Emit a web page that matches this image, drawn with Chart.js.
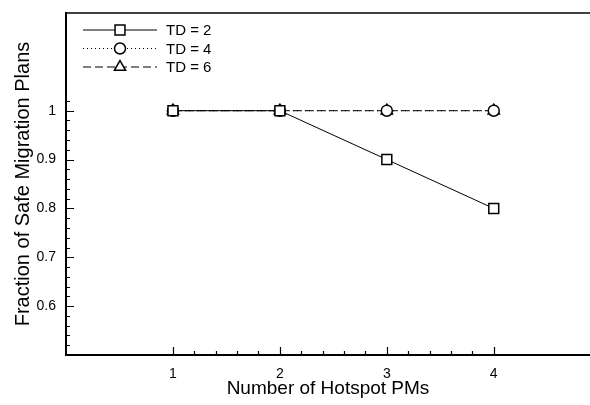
<!DOCTYPE html>
<html>
<head>
<meta charset="utf-8">
<script src="https://cdn.jsdelivr.net/npm/chart.js@4/dist/chart.umd.min.js"></script>
<style>
html,body{margin:0;padding:0;background:#fff;overflow:hidden;}
canvas{display:block;}
</style>
</head>
<body>
<canvas id="c" width="590" height="405"></canvas>
<script>
// ---- data ----
const hotspotPMs = [1, 2, 3, 4];
const seriesLabels = ['TD = 2', 'TD = 4', 'TD = 6'];
const td2 = [1, 1, 0.9, 0.8];
const td4 = [1, 1, 1, 1];
const td6 = [1, 1, 1, 1];
const xTickLabels = [1, 2, 3, 4];
const yTickLabels = [0.6, 0.7, 0.8, 0.9, 1];
const xMinorTicks = [1.2, 1.4, 1.6, 1.8, 2.2, 2.4, 2.6, 2.8, 3.2, 3.4, 3.6, 3.8];
const yMinorTicks = [0.52, 0.54, 0.56, 0.58, 0.62, 0.64, 0.66, 0.68, 0.72, 0.74, 0.76, 0.78,
  0.82, 0.84, 0.86, 0.88, 0.92, 0.94, 0.96, 0.98, 1.02];

const toPts = arr => arr.map((v, i) => ({x: hotspotPMs[i], y: v}));

const styles = [
  {dash: [], point: 'rect', r: 7},
  {dash: [1, 3], point: 'circle', r: 5.5},
  {dash: [8, 4], point: 'triangle', r: 6.5}
];
const allSeries = [td2, td4, td6];

const datasets = allSeries.map((s, i) => ({
  label: seriesLabels[i],
  data: toPts(s),
  borderColor: '#000',
  borderWidth: 1,
  borderDash: styles[i].dash,
  pointStyle: styles[i].point,
  pointRadius: styles[i].r,
  pointBackgroundColor: '#fff',
  pointBorderColor: '#000',
  pointBorderWidth: 1.5,
  fill: false,
  tension: 0
}));

function drawMarker(ctx, style, r, x, y) {
  if (Chart.helpers && Chart.helpers.drawPoint) {
    Chart.helpers.drawPoint(ctx, {pointStyle: style, radius: r, rotation: 0, borderWidth: 1.5}, x, y);
  }
}

const extras = {
  id: 'extras',
  afterDraw(chart) {
    const ctx = chart.ctx;
    const xs = chart.scales.x, ys = chart.scales.y;
    const a = chart.chartArea;
    ctx.save();
    ctx.strokeStyle = '#000';
    // top frame line
    ctx.lineWidth = 1.5;
    ctx.beginPath();
    ctx.moveTo(a.left - 1, a.top);
    ctx.lineTo(a.right + 2, a.top);
    ctx.stroke();
    // inward ticks
    ctx.lineWidth = 1.2;
    ctx.beginPath();
    xTickLabels.forEach(v => {
      const px = Math.round(xs.getPixelForValue(v)) + 0.5;
      ctx.moveTo(px, a.bottom); ctx.lineTo(px, a.bottom - 8);
    });
    xMinorTicks.forEach(v => {
      const px = Math.round(xs.getPixelForValue(v)) + 0.5;
      ctx.moveTo(px, a.bottom); ctx.lineTo(px, a.bottom - 4);
    });
    yTickLabels.forEach(v => {
      const py = Math.round(ys.getPixelForValue(v)) + 0.5;
      ctx.moveTo(a.left, py); ctx.lineTo(a.left + 8, py);
    });
    yMinorTicks.forEach(v => {
      const py = Math.round(ys.getPixelForValue(v)) + 0.5;
      ctx.moveTo(a.left, py); ctx.lineTo(a.left + 4, py);
    });
    ctx.stroke();
    // legend
    const lx0 = 83, lx1 = 157, mx = 120, tx = 166;
    chart.data.datasets.forEach((ds, i) => {
      const y = 30 + i * 18.5;
      ctx.lineWidth = 1;
      ctx.setLineDash(ds.borderDash || []);
      ctx.beginPath();
      ctx.moveTo(lx0, y); ctx.lineTo(lx1, y);
      ctx.stroke();
      ctx.setLineDash([]);
      ctx.fillStyle = '#fff';
      ctx.strokeStyle = '#000';
      ctx.lineWidth = 1.5;
      drawMarker(ctx, ds.pointStyle, ds.pointRadius, mx, y);
      ctx.fillStyle = '#000';
      ctx.font = '15px "Liberation Sans", Arial, sans-serif';
      ctx.textBaseline = 'middle';
      ctx.textAlign = 'left';
      ctx.fillText(ds.label, tx, y + 1);
    });
    ctx.restore();
  }
};

const zeroPad = s => { s.paddingTop = 0; s.paddingBottom = 0; s.paddingLeft = 0; s.paddingRight = 0; };

new Chart(document.getElementById('c'), {
  type: 'line',
  data: {datasets},
  options: {
    responsive: false,
    animation: false,
    devicePixelRatio: 1,
    layout: {autoPadding: false, padding: {top: 13, right: 0, left: 0, bottom: 0}},
    plugins: {legend: {display: false}, tooltip: {enabled: false}},
    scales: {
      x: {
        type: 'linear',
        min: 0, max: 4.9,
        afterBuildTicks: s => { s.ticks = xTickLabels.map(v => ({value: v})); },
        afterFit: s => { s.height = 50; zeroPad(s); },
        grid: {display: false, drawTicks: false},
        border: {display: true, color: '#000', width: 2},
        ticks: {
          color: '#000', padding: 11, maxRotation: 0,
          font: {family: '"Liberation Sans", Arial, sans-serif', size: 14},
          callback: v => String(v)
        },
        title: {
          display: true, text: 'Number of Hotspot PMs', color: '#000',
          font: {family: '"Liberation Sans", Arial, sans-serif', size: 19, lineHeight: 1},
          padding: {top: 0, bottom: 7}
        }
      },
      y: {
        type: 'linear',
        min: 0.5, max: 1.2,
        afterBuildTicks: s => { s.ticks = yTickLabels.map(v => ({value: v})); },
        afterFit: s => { s.width = 66; zeroPad(s); },
        grid: {display: false, drawTicks: false},
        border: {display: true, color: '#000', width: 2},
        ticks: {
          color: '#000', padding: 10,
          font: {family: '"Liberation Sans", Arial, sans-serif', size: 14},
          callback: v => (v === 1 ? '1' : v.toFixed(1))
        },
        title: {
          display: true, text: 'Fraction of Safe Migration Plans', color: '#000',
          font: {family: '"Liberation Sans", Arial, sans-serif', size: 20, lineHeight: 1},
          padding: {top: 13, bottom: 0}
        }
      }
    }
  },
  plugins: [extras]
});
</script>
</body>
</html>
